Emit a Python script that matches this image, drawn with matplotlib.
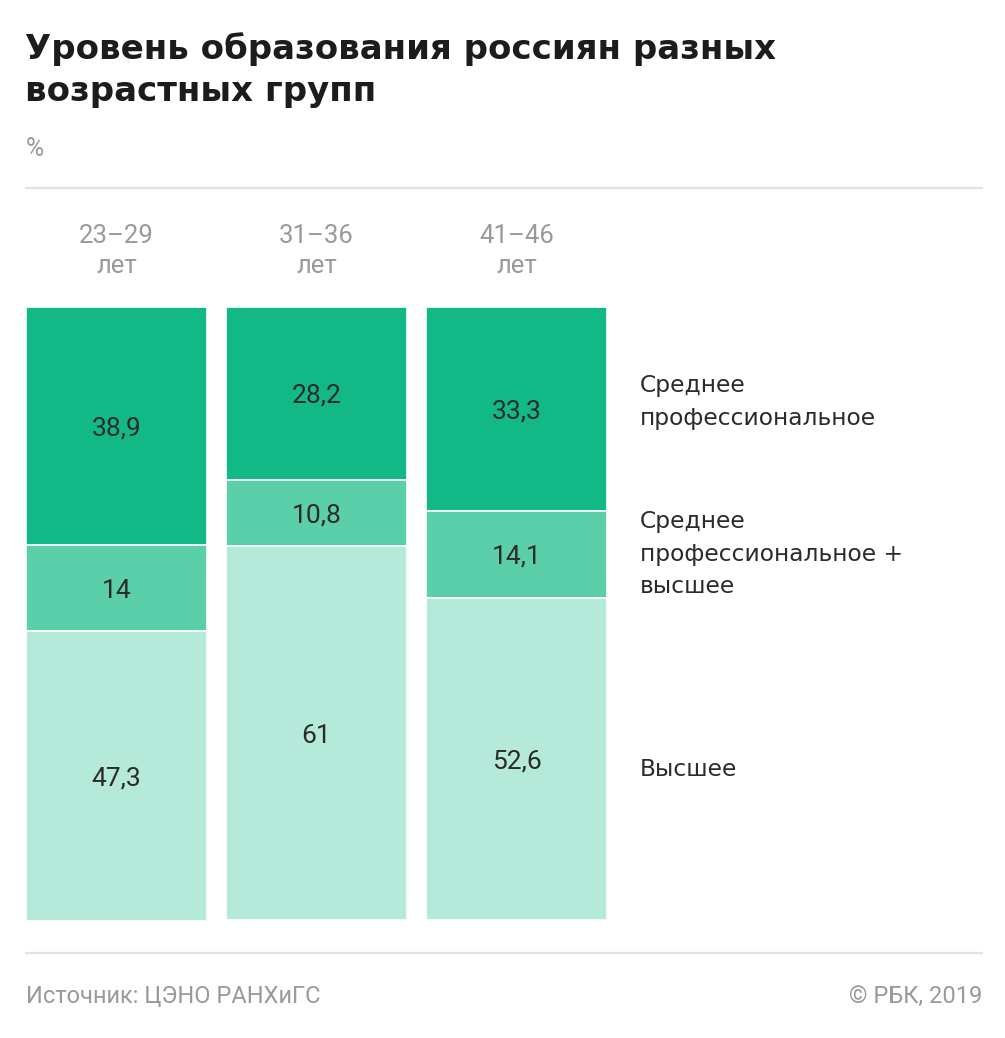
import matplotlib
matplotlib.use("Agg")
import matplotlib.pyplot as plt
import numpy as np

plt.rcParams['font.family'] = ['Roboto', 'DejaVu Sans']

groups = ["23–29\nлет", "31–36\nлет", "41–46\nлет"]
series_names = ["Среднее\nпрофессиональное", "Среднее\nпрофессиональное +\nвысшее", "Высшее"]
spo = [38.9, 28.2, 33.3]
spo_vo = [14, 10.8, 14.1]
vo = [47.3, 61, 52.6]
labels_spo = ["38,9", "28,2", "33,3"]
labels_spo_vo = ["14", "10,8", "14,1"]
labels_vo = ["47,3", "61", "52,6"]
title_lines = ["Уровень образования россиян разных", "возрастных групп"]

colors = ["#12b886", "#5bcfaa", "#b5eadb"]

W, H = 1005, 1038
fig = plt.figure(figsize=(W / 100, H / 100), dpi=100)
fig.patch.set_facecolor("white")

def fx(px):
    return px / W

def fy(py):
    return 1 - py / H

# axes: x from 16.5 to 616.5 px, y from 307 to 920 px
ax = fig.add_axes([fx(16.5), fy(920), fx(600), (920 - 307) / H])
ax.set_xlim(-0.5, 2.5)
ax.set_ylim(100, 0)
ax.axis("off")

x = np.arange(len(groups))
width = 0.905
series = [spo, spo_vo, vo]
labs = [labels_spo, labels_spo_vo, labels_vo]
bottom = np.zeros(len(groups))
for vals, c, lab in zip(series, colors, labs):
    vals = np.array(vals, dtype=float)
    ax.bar(x, vals, width=width, bottom=bottom, color=c, edgecolor="white",
           linewidth=1.2, clip_on=False)
    for xi, b, v, t in zip(x, bottom, vals, lab):
        ax.text(xi, b + v / 2, t, ha="center", va="center_baseline", fontsize=19,
                color="#2b2b2b")
    bottom = bottom + vals

# group labels
for xi, g in zip(x, groups):
    xp = ax.transData.transform((xi, 0))[0] / W
    fig.text(xp, fy(251), g, ha="center", va="center", fontsize=18.5, color="#9a9a9a",
             linespacing=1.36)

# legend labels at right
leg_font = dict(ha="left", va="center", fontsize=16.8, color="#2b2b2b",
                linespacing=1.52, family=["DejaVu Sans"])
fig.text(fx(640), fy(402), series_names[0], **leg_font)
fig.text(fx(640), fy(554), series_names[1], **leg_font)
fig.text(fx(640), fy(769), series_names[2], **leg_font)

# title
fig.text(fx(25), fy(59), title_lines[0], ha="left", va="baseline", fontsize=24.5,
         fontweight="bold", color="#1c1c1c", family=["DejaVu Sans"])
fig.text(fx(25), fy(101), title_lines[1], ha="left", va="baseline", fontsize=24.5,
         fontweight="bold", color="#1c1c1c", family=["DejaVu Sans"])
fig.text(fx(26), fy(156), "%", ha="left", va="baseline", fontsize=18, color="#9a9a9a")

# rules
fig.add_artist(plt.Line2D([fx(26), fx(982)], [fy(188), fy(188)], color="#e3e3e3", lw=1.6))
fig.add_artist(plt.Line2D([fx(26), fx(982)], [fy(953), fy(953)], color="#e3e3e3", lw=1.6))

# footer
fig.text(fx(26), fy(1003), "Источник: ЦЭНО РАНХиГС", ha="left", va="baseline",
         fontsize=17, color="#9a9a9a")
fig.text(fx(982), fy(1003), "© РБК, 2019", ha="right", va="baseline",
         fontsize=17, color="#9a9a9a")

fig.savefig("out.png", dpi=100, facecolor="white")
